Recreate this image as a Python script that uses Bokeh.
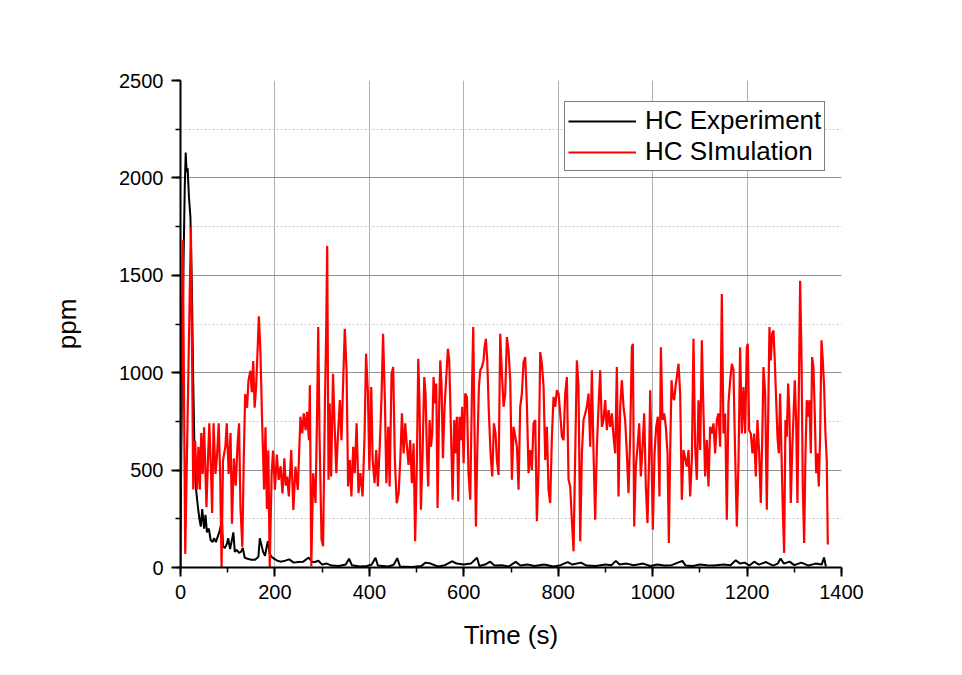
from bokeh.plotting import figure
from bokeh.models import Range1d, SingleIntervalTicker, FixedTicker, Legend, LegendItem
from bokeh.embed import file_html
from bokeh.resources import INLINE

# HC Experiment (black)
exp_t = [0, 1, 3, 6, 9, 11, 13, 15, 18, 21, 24, 27, 30, 33, 36, 40, 43, 46, 50, 53, 56, 60, 64, 68,
         71, 75, 79, 82, 85, 88, 90, 94, 98, 101, 105, 108, 112, 115, 119, 124, 128, 132, 136, 142,
         150, 158, 165, 168, 171, 175, 179, 182, 185, 189, 193, 198, 205, 212, 222, 230, 240, 250,
         260, 268, 272, 278, 285, 292, 300, 310, 320, 335, 350, 357, 363, 380, 395, 405, 413, 418,
         440, 452, 459, 465, 490, 510, 519, 530, 545, 560, 575, 585, 600, 615, 628, 633, 645, 656,
         665, 680, 695, 710, 720, 735, 750, 770, 790, 805, 820, 830, 848, 860, 880, 900, 913, 922,
         930, 945, 960, 980, 995, 1010, 1025, 1040, 1063, 1070, 1085, 1100, 1115, 1130, 1150, 1165,
         1176, 1185, 1195, 1205, 1215, 1225, 1240, 1255, 1265, 1271, 1278, 1290, 1300, 1315, 1330,
         1345, 1358, 1363, 1367]
exp_v = [0, 420, 900, 1500, 1950, 2130, 2030, 2050, 1900, 1800, 1450, 950, 550, 400, 330, 250, 210,
         300, 200, 270, 180, 200, 140, 130, 150, 130, 160, 180, 210, 230, 110, 100, 120, 150, 95, 130,
         180, 80, 90, 75, 80, 100, 50, 45, 40, 40, 55, 150, 120, 80, 60, 100, 135, 70, 55, 45, 35, 30,
         35, 42, 25, 28, 30, 45, 50, 30, 28, 35, 15, 20, 10, 8, 15, 45, 12, 5, 8, 15, 50, 10, 5, 15,
         48, 5, 3, 8, 25, 20, 5, 12, 32, 20, 15, 20, 50, 8, 15, 30, 10, 12, 5, 29, 10, 15, 8, 15, 5,
         12, 28, 15, 25, 10, 8, 15, 12, 34, 15, 20, 12, 20, 8, 15, 10, 12, 34, 10, 8, 15, 12, 10, 15,
         12, 37, 20, 25, 10, 30, 15, 28, 10, 20, 46, 20, 30, 12, 25, 10, 20, 15, 51, 5]

# HC SImulation (red)
sim_t = [0, 5, 10, 16, 22, 27, 31, 35, 38, 41, 44, 47, 50, 55, 58, 61, 65, 67, 70, 74, 77, 81, 84,
         87, 90, 95, 98, 102, 106, 109, 113, 117, 121, 124, 127, 131, 134, 137, 141, 144, 148, 151,
         154, 157, 160, 164, 166, 169, 173, 177, 180, 183, 186, 189, 193, 196, 200, 204, 208, 212,
         216, 220, 223,
         226, 229.5, 234.5, 239, 243.5, 248.5, 254, 258, 261, 265, 268, 272, 274, 277, 281, 286,
         289.5, 291.7, 294.5, 298.7, 302, 306, 308.6, 310.7, 313.5, 316, 319, 323, 326, 330, 333,
         337.5, 341, 344.6, 348, 351.7, 355, 358.7, 362, 365.8, 369, 373, 377, 381, 385.6, 389.8,
         393, 397, 400, 404, 407, 411, 414.5, 418, 422, 425.8, 429, 432.9, 436, 440, 443, 447,
         450.5, 454,
         458, 462, 465.5, 469, 472.5, 476, 479.6, 483, 486.6, 490, 493.7, 497, 500.7, 503.6, 506.4,
         509.2, 512.7, 516.3, 519, 522, 524.7, 527.6, 530.4, 533.2, 536, 538.9, 541.7, 544.5, 547.3,
         550.2, 553, 555.8, 559.3, 562.9, 566.4, 569.2, 572.7, 576.3, 579.8, 582.6, 585.4, 588.3,
         591, 593.9, 596.7, 599.6, 603, 606.6, 610, 613.7, 617.2, 620, 622.9, 625.7, 628.5, 632,
         634.9, 638.4, 641.9, 644, 646.8, 649.7, 653.2, 656.7, 660.3, 663.8, 667.3, 670.1, 673.7,
         677.2, 680.7, 684.3, 687.8,
         691.3, 694.8, 698.4, 701.9, 705.4, 709, 712.5, 716, 719.5, 723, 726.6, 730.1, 733.6, 737.2,
         740.7, 744.2, 747.8, 751.3, 754.8, 758.4, 761.9, 765.4, 769, 772.5, 776, 779.5, 783, 786.6,
         790.1, 793.6, 797.2, 800.7, 804.2, 807.8, 811.3, 814.8, 818.3, 821.9, 825.4, 828.9, 832.5,
         836, 839.5, 843, 846.6, 850.1, 853.6, 857.2, 860.7, 864.2, 867.8, 871.3, 874.8, 878.3,
         881.9, 885.4, 888.9, 892.5, 896, 899.5, 903, 906.6, 910.1, 913.6, 917.2, 920.7, 924.2,
         927.7,
         931.3, 934.8, 938.3, 941.8, 945.4, 948.9, 952.4, 956, 958.1, 960.9, 964.4, 968, 971.5, 975,
         978.6, 982.1, 985.6, 989.1, 992.7, 994.8, 997.6, 1000.4, 1004, 1007.5, 1011, 1014.5,
         1017.4, 1020.9, 1024.4, 1028, 1031.5, 1034.3, 1037.1, 1040, 1042.8, 1045.6, 1048.4, 1051.2,
         1054.8, 1058.3, 1061.8, 1065.4, 1072.4, 1076, 1079.5, 1083, 1086.5, 1090, 1093.6, 1097.1,
         1100.7, 1104.2, 1107.7, 1111.2, 1114.8, 1118.3, 1121.8, 1125.4, 1128.9, 1132.4, 1136,
         1139.5, 1143, 1146.5, 1150, 1153.6, 1157.1,
         1160.6, 1164.2, 1167.7, 1171.2, 1174.7, 1178.3, 1181.8, 1185.3, 1188.9, 1192.4, 1195.9,
         1199.5, 1201.6, 1204.4, 1207.9, 1211.4, 1215, 1218.5, 1222, 1225.6, 1229.1, 1232.6, 1234.7,
         1238.3, 1241.8, 1244.6, 1247.4, 1250.3, 1253.1, 1255.9, 1258.7, 1261.6, 1264.4, 1267.2,
         1270, 1272.9, 1275.7, 1278.5, 1281.3, 1284.1, 1287, 1289.8, 1292.6, 1295.4, 1298.3, 1301.1,
         1303.9, 1306.7, 1309.6, 1312.4, 1315.2, 1318, 1320.9, 1323.7, 1326.5, 1329.3, 1332.1, 1335,
         1337.8, 1340.6, 1343.4, 1346.3, 1349.1, 1351.9, 1354.7, 1357.6, 1360.4, 1363.2, 1366,
         1368.8, 1371]
sim_v = [400, 1680, 70, 900, 1750, 400, 650, 400, 620, 400, 690, 480, 720, 310, 540, 740, 460, 280,
         740, 480, 560, 740, 480, 0, 550, 620, 740, 480, 690, 225, 560, 420, 640, 740, 310, 106, 560,
         890, 820, 960, 1010, 900, 1060, 820, 920, 1160, 1290, 1130, 740, 400, 720, 300, 600, 0, 480,
         600, 400, 580, 450, 520, 380, 560, 420,
         467, 365, 603, 296, 518, 399, 774, 688, 791, 705, 799, 654, 935, 7, 484, 331, 825, 1234, 671,
         143, 109, 859, 1217, 1651, 450, 842, 467, 995, 757, 484, 654, 859, 654, 961, 1225, 1012, 416,
         552, 365, 620, 484, 740, 382, 484, 365, 671, 1097, 893, 501, 927, 552, 433, 603, 416, 620,
         876, 1200, 859, 433, 722, 416, 995, 1029, 552,
         330, 382, 552, 791, 586, 740, 620, 527, 654, 433, 637, 135, 552, 1072, 825, 296, 586, 978,
         893, 586, 416, 757, 620, 688, 978, 842, 944, 305, 757, 1063, 927, 561, 825, 978, 1123, 1063,
         722, 348, 757, 586, 774, 339, 774, 654, 825, 535, 893, 876, 484, 348, 893, 1234, 671, 211,
         586, 927, 1012, 1029, 1063, 1131, 1174, 1063, 791, 586, 467, 740, 688, 552, 475, 1200, 995,
         825, 893,
         1183, 1114, 961, 450, 722, 671, 620, 399, 825, 893, 1055, 1080, 842, 484, 603, 501, 740, 757,
         237, 501, 1106, 1046, 927, 552, 722, 399, 331, 671, 876, 825, 910, 893, 791, 671, 654, 893,
         978, 450, 416, 245, 83, 586, 1063, 927, 135, 586, 757, 791, 825, 893, 620, 1012, 586, 245,
         620, 825, 1012, 722, 757, 859, 705, 808, 722, 791, 671, 586, 1029, 365,
         825, 961, 825, 757, 586, 382, 671, 1131, 1148, 211, 518, 620, 740, 467, 620, 791, 416, 228,
         586, 910, 586, 194, 586, 722, 774, 365, 1131, 757, 791, 722, 586, 126, 586, 961, 876, 859,
         927, 978, 1046, 893, 348, 603, 518, 603, 365, 552, 1174, 620, 450, 859, 603, 1166, 791, 467,
         654, 416, 722, 688, 740, 586, 757, 791, 620, 1404, 688, 791, 245,
         842, 961, 1046, 1012, 586, 211, 535, 1131, 688, 927, 688, 1131, 1148, 705, 688, 586, 688,
         467, 757, 586, 331, 722, 1029, 893, 296, 757, 1234, 1063, 1200, 1217, 1063, 859, 671, 586,
         893, 586, 296, 75, 757, 671, 944, 791, 331, 586, 774, 961, 757, 331, 893, 1472, 1097, 416,
         126, 586, 859, 774, 859, 586, 1080, 1029, 791, 484, 586, 416, 671, 1166, 1063, 927, 688,
         552, 118]

x_ticks_grid = [200, 400, 600, 800, 1000, 1200]
y_ticks_grid = [500, 1000, 1500, 2000]
y_minor_grid = [250, 750, 1250, 1750, 2250]

FONT = "Liberation Sans"

p = figure(width=962, height=675, output_backend="svg", toolbar_location=None,
           x_range=Range1d(0, 1400), y_range=Range1d(0, 2500),
           min_border_left=180, min_border_right=121, min_border_top=80, min_border_bottom=108,
           x_axis_label="Time (s)", y_axis_label="ppm")
p.outline_line_color = None
p.background_fill_color = "white"
p.border_fill_color = "white"

p.xaxis.ticker = SingleIntervalTicker(interval=200, num_minor_ticks=2)
p.yaxis.ticker = SingleIntervalTicker(interval=500, num_minor_ticks=2)

p.xgrid.ticker = FixedTicker(ticks=x_ticks_grid)
p.ygrid.ticker = FixedTicker(ticks=y_ticks_grid, minor_ticks=y_minor_grid)
p.xgrid.grid_line_color = "#b0b0b0"
p.ygrid.grid_line_color = "#909090"
p.xgrid.grid_line_width = 1
p.ygrid.grid_line_width = 1
p.ygrid.minor_grid_line_color = "#c8c8c8"
p.ygrid.minor_grid_line_dash = "2 2"

for ax in [p.xaxis[0], p.yaxis[0]]:
    ax.axis_line_color = "black"
    ax.axis_line_width = 2
    ax.major_tick_line_color = "black"
    ax.major_tick_line_width = 2
    ax.minor_tick_line_color = "black"
    ax.minor_tick_line_width = 1.5
    ax.major_tick_out = 9
    ax.major_tick_in = 0
    ax.minor_tick_out = 5
    ax.minor_tick_in = 0
    ax.major_label_text_font = FONT
    ax.major_label_text_font_size = "20px"
    ax.major_label_text_color = "black"
    ax.axis_label_text_font = FONT
    ax.axis_label_text_font_size = "26px"
    ax.axis_label_text_font_style = "normal"
    ax.axis_label_text_color = "black"

p.xaxis.major_label_standoff = 8
p.yaxis.major_label_standoff = 8
p.xaxis.axis_label_standoff = 18
p.yaxis.axis_label_standoff = 34

r_exp = p.line(exp_t, exp_v, line_color="black", line_width=2)
r_sim = p.line(sim_t, sim_v, line_color="#ff0000", line_width=2.2)

legend = Legend(items=[LegendItem(label="HC Experiment", renderers=[r_exp]),
                       LegendItem(label="HC SImulation", renderers=[r_sim])],
                location=(384, 396))
legend.border_line_color = "black"
legend.border_line_width = 1
legend.background_fill_color = "white"
legend.background_fill_alpha = 1
legend.label_text_font = FONT
legend.label_text_font_size = "26px"
legend.label_text_color = "black"
legend.glyph_width = 68
legend.glyph_height = 26
legend.label_height = 26
legend.padding = 3
legend.spacing = 0
legend.label_standoff = 9
legend.margin = 0
p.add_layout(legend)

open("out.html", "w").write(file_html(p, INLINE))
